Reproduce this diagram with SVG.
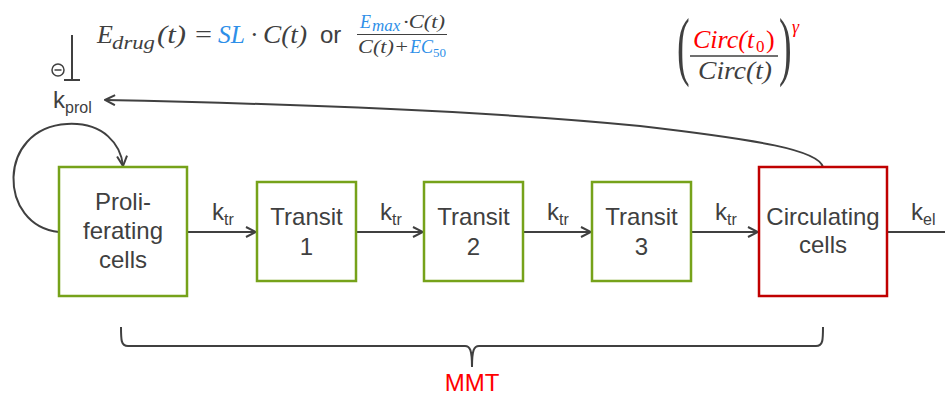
<svg xmlns="http://www.w3.org/2000/svg" width="945" height="396" viewBox="0 0 945 396">
<style>
.box{fill:#fff;stroke-width:2.5}
.g{stroke:#76A21A}
.r{stroke:#C00000}
.t{font-family:"Liberation Sans",Arial,sans-serif;font-size:24px;fill:#404040;text-anchor:middle}
.k{font-family:"Liberation Sans",Arial,sans-serif;font-size:24px;fill:#404040}
.sub{font-size:16px}
.m{font-family:"Liberation Serif","Times New Roman",serif;font-style:italic;fill:#404040}
.blue{fill:#2E8FE8}
.red{fill:#FF0000}
.ln{fill:none;stroke:#404040;stroke-width:2}
</style>
<defs>
<marker id="ah" viewBox="0 0 12 12" refX="11" refY="6" markerWidth="12" markerHeight="12" markerUnits="userSpaceOnUse" orient="auto">
<path d="M1,1 L11,6 L1,11" fill="none" stroke="#404040" stroke-width="2"/>
</marker>
</defs>
<rect width="945" height="396" fill="#fff"/>

<g id="connectors">
<path class="ln" d="M187,232 H256" marker-end="url(#ah)"/>
<path class="ln" d="M356,232 H423" marker-end="url(#ah)"/>
<path class="ln" d="M523,232 H591" marker-end="url(#ah)"/>
<path class="ln" d="M691,232 H758" marker-end="url(#ah)"/>
<path class="ln" d="M888,232 H945"/>
<path class="ln" d="M59,232 C-2,226 -4,128 67,124 C104,122 121,145 123,166" marker-end="url(#ah)"/>
<path class="ln" d="M823,167 C818,150 760,140 640,126 C500,112 300,104 105,100" marker-end="url(#ah)"/>
<path class="ln" d="M72,35 V80 M64,80 H80"/>
<circle cx="58" cy="70" r="6" fill="none" stroke="#404040" stroke-width="1.5"/>
<path d="M54.5,70 H61.5" stroke="#404040" stroke-width="1.5"/>
<path class="ln" d="M121,327 C121,340 121,346 128,346 L465,346 C470,346 472,350 472,367 C472,350 474,346 479,346 L816,346 C823,346 823,340 823,327"/>
</g>

<g id="labels">
<text class="k" x="212" y="220">k<tspan class="sub" dy="5">tr</tspan></text>
<text class="k" x="380" y="220">k<tspan class="sub" dy="5">tr</tspan></text>
<text class="k" x="547" y="220">k<tspan class="sub" dy="5">tr</tspan></text>
<text class="k" x="715" y="220">k<tspan class="sub" dy="5">tr</tspan></text>
<text class="k" x="911" y="220">k<tspan class="sub" dy="5">el</tspan></text>
<text class="k" x="53" y="108">k<tspan class="sub" dy="5">prol</tspan></text>
<text class="t" x="472" y="391" style="fill:#FF0000">MMT</text>
</g>

<g id="node-proliferating">
<rect class="box g" x="59" y="167" width="128" height="129"/>
<text class="t" x="123" y="210">Proli-</text>
<text class="t" x="123" y="239">ferating</text>
<text class="t" x="123" y="268">cells</text>
</g>
<g id="node-transit1">
<rect class="box g" x="257" y="182" width="99" height="99"/>
<text class="t" x="306.5" y="225">Transit</text>
<text class="t" x="306.5" y="255">1</text>
</g>
<g id="node-transit2">
<rect class="box g" x="424" y="182" width="99" height="99"/>
<text class="t" x="473.5" y="225">Transit</text>
<text class="t" x="473.5" y="255">2</text>
</g>
<g id="node-transit3">
<rect class="box g" x="592" y="182" width="99" height="99"/>
<text class="t" x="641.5" y="225">Transit</text>
<text class="t" x="641.5" y="255">3</text>
</g>
<g id="node-circulating">
<rect class="box r" x="759" y="167" width="128" height="129"/>
<text class="t" x="823" y="225">Circulating</text>
<text class="t" x="823" y="253">cells</text>
</g>

<g id="formula-edrug">
<text class="m" x="97" y="43" font-size="26">E</text>
<text class="m" x="112" y="49" font-size="19" textLength="43" lengthAdjust="spacingAndGlyphs">drug</text>
<text class="m" x="157" y="43" font-size="26" textLength="29" lengthAdjust="spacingAndGlyphs">(t)</text>
<text class="m" x="195" y="43" font-size="26" style="font-style:normal" textLength="17" lengthAdjust="spacingAndGlyphs">=</text>
<text class="m blue" x="218" y="43" font-size="26" textLength="27" lengthAdjust="spacingAndGlyphs">SL</text>
<text class="m" x="250" y="43" font-size="26" style="font-style:normal">·</text>
<text class="m" x="263" y="43" font-size="26" textLength="44" lengthAdjust="spacingAndGlyphs">C(t)</text>
<text class="k" x="320" y="43">or</text>
<text class="m blue" x="360" y="28" font-size="18">E<tspan x="372" y="31" font-size="17">max</tspan></text>
<text class="m" x="403" y="28" font-size="18" textLength="42" lengthAdjust="spacingAndGlyphs">·C(t)</text>
<line x1="357" y1="34.5" x2="447" y2="34.5" stroke="#404040" stroke-width="1.2"/>
<text class="m" x="358" y="53" font-size="18" textLength="51" lengthAdjust="spacingAndGlyphs">C(t)+</text>
<text class="m blue" x="410" y="53" font-size="18">EC<tspan x="433" y="57" font-size="13" style="font-style:normal">50</tspan></text>
</g>

<g id="formula-circ">
<text class="m" transform="translate(677,71) scale(0.5,1)" font-size="76" style="font-style:normal">(</text>
<text class="m red" x="693" y="48" font-size="26">Circ(t<tspan x="756" y="51.5" font-size="17" style="font-style:normal">0</tspan><tspan x="766" y="48" style="font-style:normal">)</tspan></text>
<line x1="690" y1="56" x2="778" y2="56" stroke="#404040" stroke-width="1.5"/>
<text class="m" x="698" y="79" font-size="26" textLength="74" lengthAdjust="spacingAndGlyphs">Circ(t)</text>
<text class="m" transform="translate(779,71) scale(0.5,1)" font-size="76" style="font-style:normal">)</text>
<text class="m red" x="792" y="33" font-size="18">γ</text>
</g>
</svg>
